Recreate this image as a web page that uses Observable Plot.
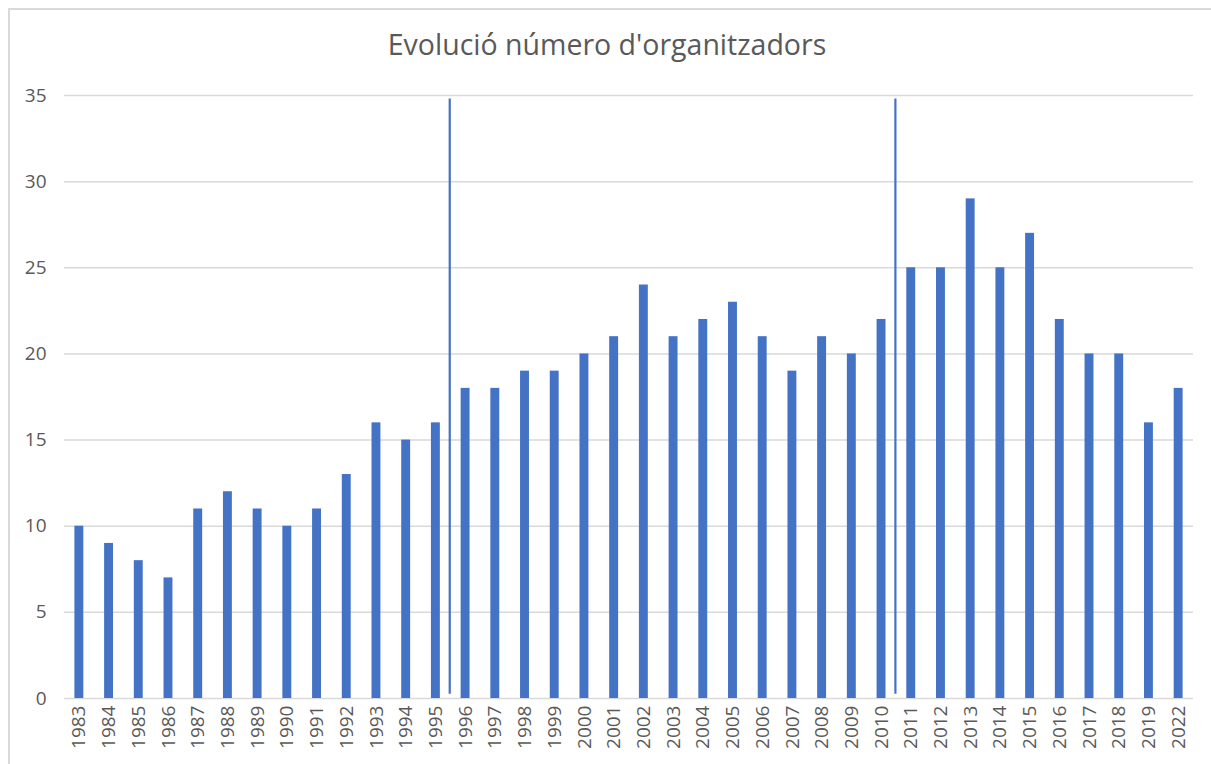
<!DOCTYPE html>
<html>
<head>
<meta charset="utf-8">
<script src="https://cdn.jsdelivr.net/npm/d3@7"></script>
<script src="https://cdn.jsdelivr.net/npm/@observablehq/plot@0.6"></script>
<style>
  html, body { margin: 0; padding: 0; background: #fff; }
  #wrap { position: relative; width: 1211px; height: 764px; overflow: hidden; font-family: "Open Sans", sans-serif; }
  #frame { position: absolute; left: 8px; top: 8px; width: 1220px; height: 800px; border: 2px solid #d9d9d9; box-sizing: border-box; }
  #title { position: absolute; top: 25px; left: 0; width: 1214px; text-align: center; font-size: 28.5px; color: #595959; font-family: "Open Sans", sans-serif; }
  #chart { position: absolute; left: 0; top: 0; }
</style>
</head>
<body>
<div id="wrap">
  <div id="frame"></div>
  <div id="chart"></div>
  <div id="title">Evolució número d'organitzadors</div>
</div>
<script>
const years = ["1983","1984","1985","1986","1987","1988","1989","1990","1991","1992","1993","1994","1995","1996","1997","1998","1999","2000","2001","2002","2003","2004","2005","2006","2007","2008","2009","2010","2011","2012","2013","2014","2015","2016","2017","2018","2019","2022"];
const organitzadors = [10,9,8,7,11,12,11,10,11,13,16,15,16,18,18,19,19,20,21,24,21,22,23,21,19,21,20,22,25,25,29,25,27,22,20,20,16,18];
const separatorsAfter = ["1995","2010"];
const yTicks = [0,5,10,15,20,25,30,35];

const data = years.map((y, i) => ({year: y, value: organitzadors[i]}));

const W = 1211, H = 764;
const mL = 64, mR = 18, mT = 95, mB = 66;
const pInner = 0.7, pOuter = 0.35;
const step = (W - mL - mR) / (years.length - pInner + 2 * pOuter);

const plot = Plot.plot({
  width: W,
  height: H,
  marginLeft: mL,
  marginRight: mR,
  marginTop: mT,
  marginBottom: mB,
  style: { fontFamily: "'Open Sans', sans-serif", fontSize: "19px", color: "#595959", background: "transparent" },
  x: { type: "band", domain: years, paddingInner: pInner, paddingOuter: pOuter, align: 0.5, round: false, label: null },
  y: { domain: [0, 35], label: null },
  marks: [
    Plot.gridY(yTicks, { stroke: "#d9d9d9", strokeOpacity: 1, strokeWidth: 1.5 }),
    Plot.barY(data, { x: "year", y: "value", fill: "#4472c4" }),
    Plot.ruleX(separatorsAfter, { x: d => d, y1: 0.25, y2: 34.8, dx: step / 2 - 1, stroke: "#4472c4", strokeWidth: 2.2 }),
    Plot.axisY(yTicks, { tickSize: 0, tickPadding: 18, fill: "#595959", fontSize: 19, label: null }),
    Plot.axisX({ tickSize: 0, tickPadding: 7, tickRotate: -90, fill: "#595959", fontSize: 19, label: null })
  ]
});
document.getElementById("chart").appendChild(plot);
</script>
</body>
</html>
